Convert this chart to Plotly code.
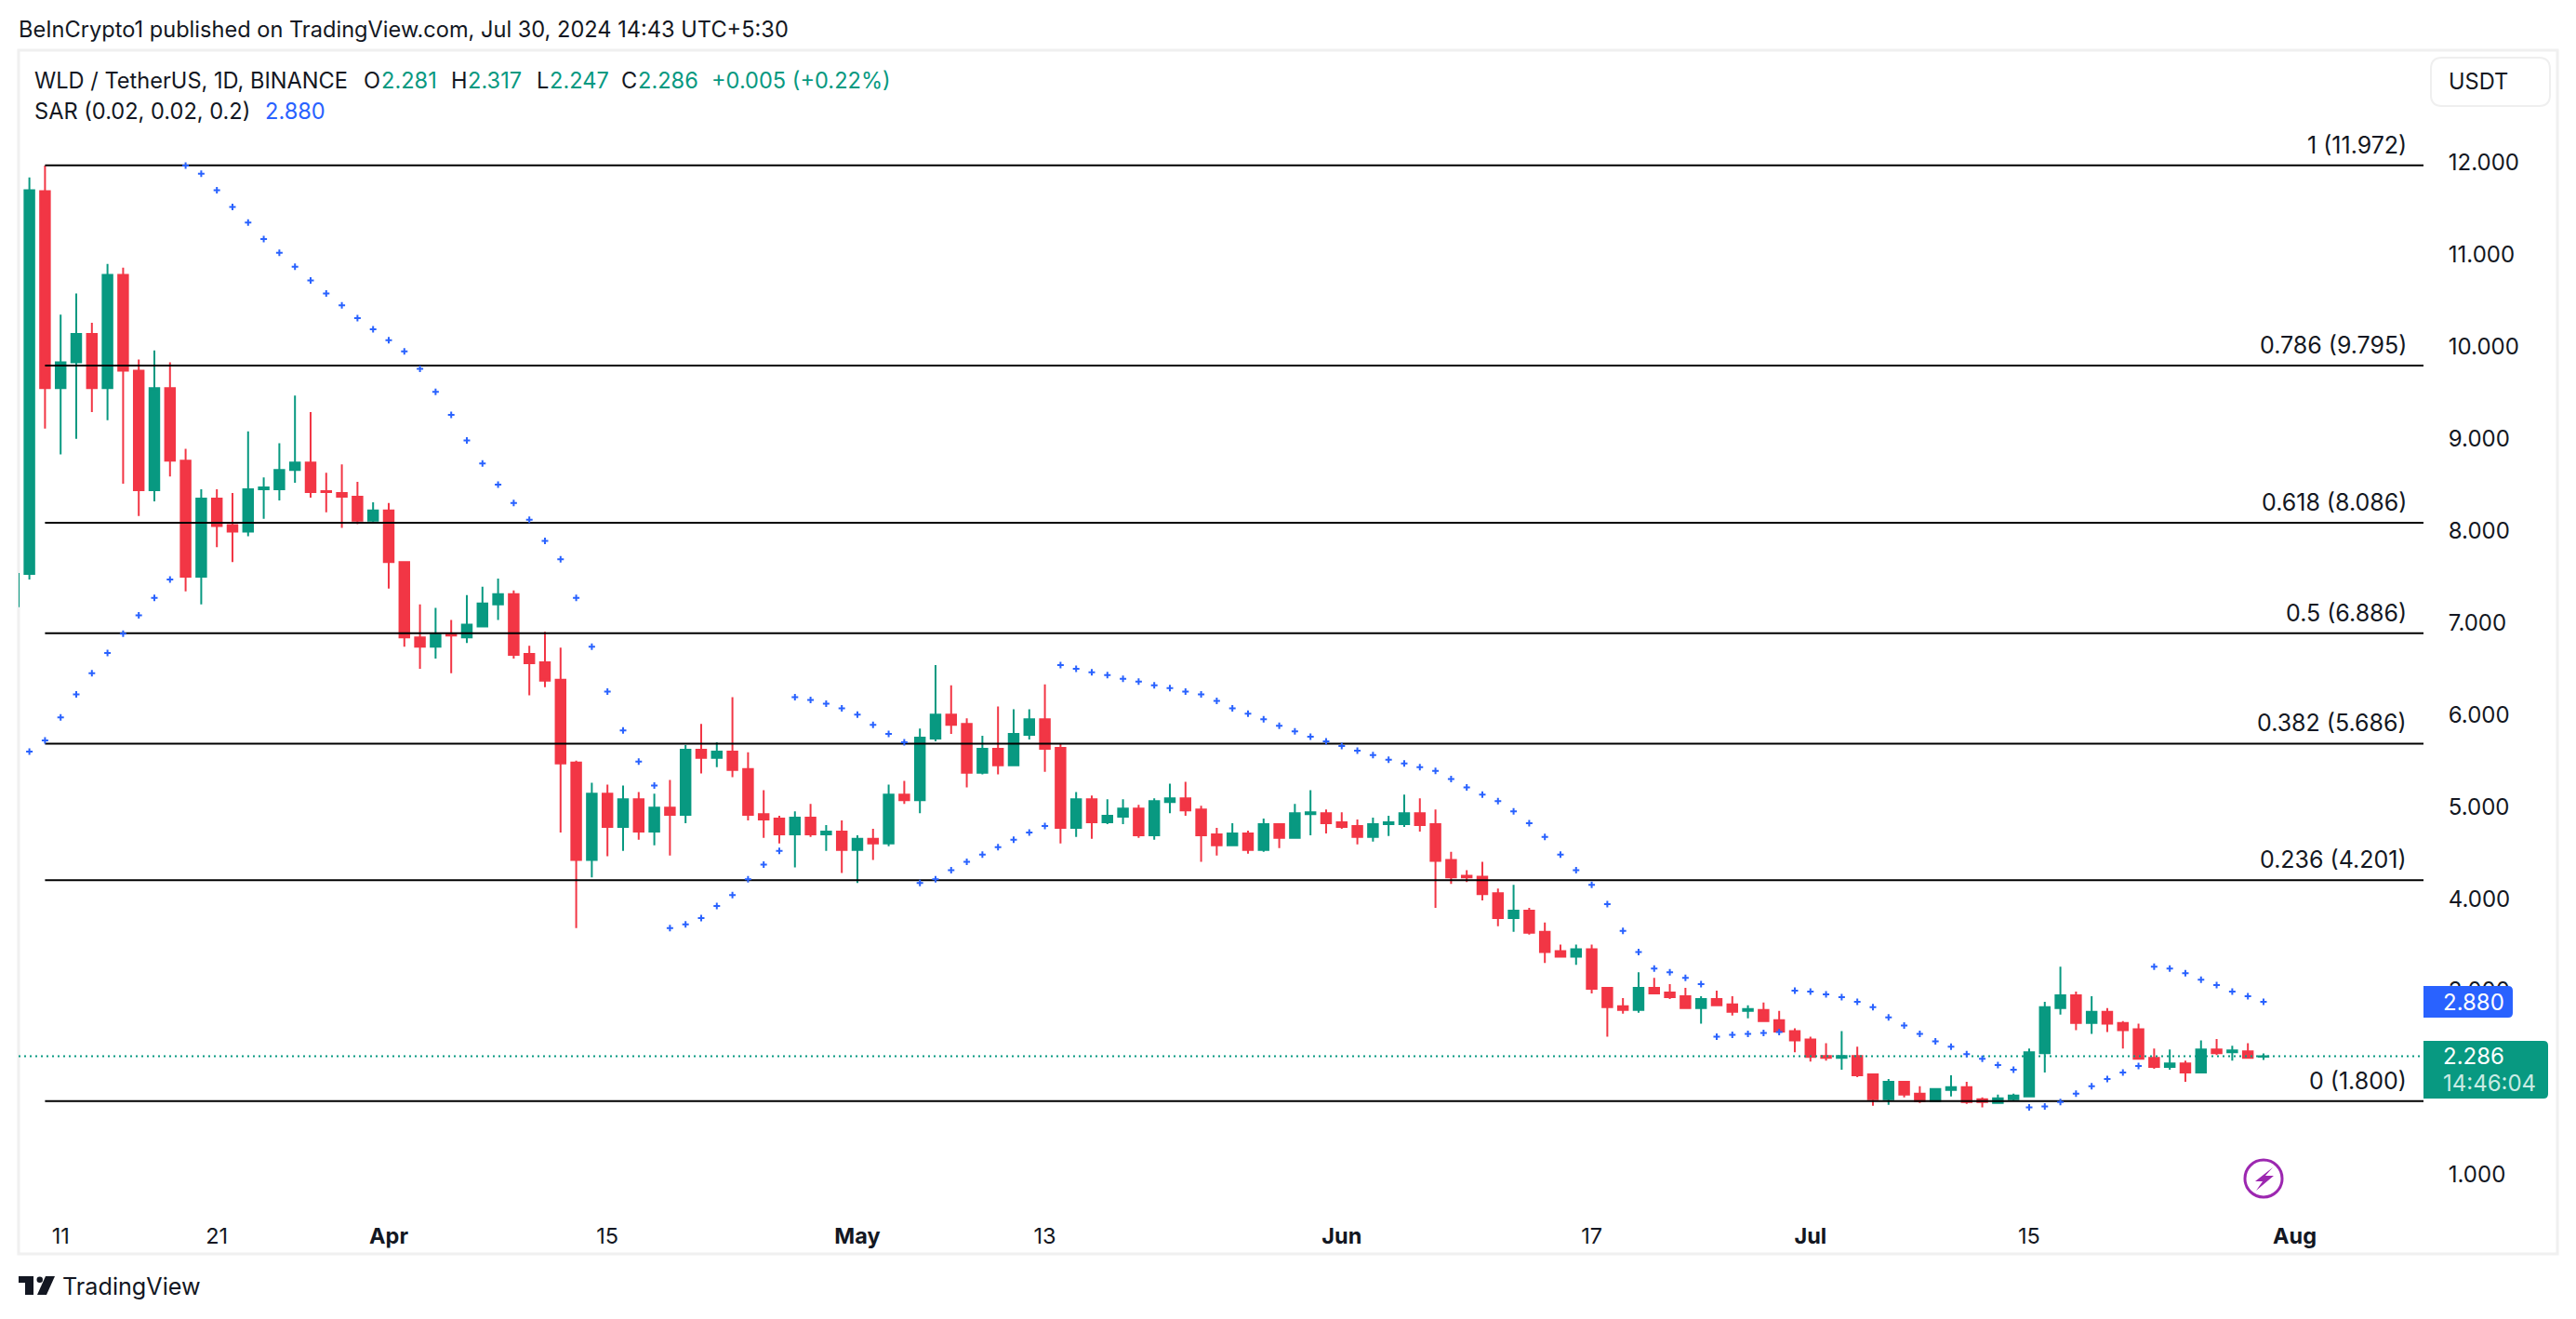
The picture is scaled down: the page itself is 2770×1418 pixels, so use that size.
import pandas as pd
import plotly.graph_objects as go

W, H = 2770, 1418
GREEN = "#089981"
RED = "#F23645"
BLUE = "#2962FF"
INK = "#131722"
FONT = "Inter"

first_day = "2024-03-08"

opens = [7.18,
    7.53, 11.69, 9.55, 9.83, 10.14, 9.55, 10.78, 9.74, 8.44, 9.55,
    8.76, 7.50, 8.35, 8.06, 7.99, 8.45, 8.45, 8.66, 8.74, 8.43,
    8.41, 8.37, 8.11, 8.22, 7.66, 6.84, 6.74, 6.87, 6.84, 6.96,
    7.20, 7.31, 6.66, 6.57, 6.38, 5.48, 4.42, 5.14, 4.78, 5.08,
    4.73, 4.99, 4.91, 5.62, 5.53, 5.60, 5.41, 4.92, 4.87, 4.70,
    4.88, 4.70, 4.73, 4.53, 4.65, 4.60, 5.13, 5.07, 5.74, 6.00,
    5.90, 5.37, 5.63, 5.45, 5.78, 5.95, 5.64, 4.77, 5.08, 4.83,
    4.89, 4.98, 4.69, 5.05, 5.09, 4.97, 4.70, 4.58, 4.71, 4.53,
    4.81, 4.66, 4.92, 4.93, 4.83, 4.79, 4.67, 4.81, 4.81, 4.93,
    4.81, 4.42, 4.25, 4.24, 4.06, 3.79, 3.87, 3.64, 3.43, 3.37,
    3.45, 3.03, 2.83, 2.79, 3.03, 2.98, 2.94, 2.81, 2.91, 2.85,
    2.78, 2.79, 2.68, 2.56, 2.47, 2.29, 2.27, 2.29, 2.09, 1.82,
    2.01, 1.88, 1.80, 1.92, 1.95, 1.82, 1.78, 1.82, 1.85, 2.32,
    2.81, 2.95, 2.65, 2.77, 2.65, 2.58, 2.27, 2.17, 2.21, 2.11,
    2.36, 2.33, 2.34, 2.281]

highs = [7.60,
    11.84, 11.97, 10.35, 10.58, 10.26, 10.90, 10.86, 9.86, 9.96, 9.83,
    8.89, 8.45, 8.45, 8.41, 9.08, 8.58, 8.95, 9.47, 9.29, 8.63,
    8.72, 8.53, 8.31, 8.30, 7.67, 7.20, 7.16, 7.03, 7.30, 7.39,
    7.48, 7.35, 6.75, 6.90, 6.73, 5.50, 5.26, 5.24, 5.23, 5.16,
    5.14, 5.29, 5.67, 5.90, 5.70, 6.19, 5.59, 5.18, 4.90, 4.95,
    5.03, 4.80, 4.85, 4.69, 4.76, 5.24, 5.28, 5.85, 6.54, 6.32,
    5.96, 5.77, 6.09, 6.06, 6.06, 6.33, 5.68, 5.16, 5.12, 5.08,
    5.08, 5.02, 5.09, 5.25, 5.27, 5.01, 4.77, 4.82, 4.74, 4.87,
    4.81, 5.03, 5.18, 4.97, 4.94, 4.86, 4.88, 4.90, 5.13, 5.09,
    4.97, 4.51, 4.31, 4.40, 4.11, 4.15, 3.90, 3.74, 3.50, 3.50,
    3.50, 3.04, 2.92, 3.20, 3.14, 3.07, 3.03, 2.94, 3.00, 2.94,
    2.84, 2.87, 2.78, 2.59, 2.50, 2.43, 2.56, 2.39, 2.09, 2.04,
    2.01, 1.96, 1.93, 2.08, 2.01, 1.84, 1.87, 1.88, 2.37, 2.88,
    3.26, 2.99, 2.94, 2.81, 2.67, 2.64, 2.37, 2.36, 2.24, 2.46,
    2.475, 2.40, 2.43, 2.317]

lows = [7.10,
    7.47, 9.11, 8.83, 9.00, 9.29, 9.20, 8.51, 8.16, 8.32, 8.59,
    7.34, 7.20, 7.82, 7.66, 7.94, 8.13, 8.33, 8.52, 8.36, 8.20,
    8.03, 8.07, 8.09, 7.37, 6.74, 6.50, 6.61, 6.45, 6.78, 6.96,
    7.03, 6.61, 6.21, 6.30, 4.72, 3.68, 4.23, 4.46, 4.52, 4.64,
    4.58, 4.47, 4.82, 5.36, 5.43, 5.32, 4.85, 4.66, 4.60, 4.34,
    4.67, 4.52, 4.28, 4.17, 4.42, 4.57, 5.03, 4.93, 5.71, 5.79,
    5.21, 5.35, 5.35, 5.45, 5.73, 5.38, 4.60, 4.67, 4.65, 4.81,
    4.81, 4.66, 4.64, 4.93, 4.90, 4.40, 4.47, 4.57, 4.49, 4.51,
    4.55, 4.65, 4.69, 4.71, 4.76, 4.59, 4.62, 4.68, 4.78, 4.73,
    3.90, 4.16, 4.18, 3.98, 3.70, 3.64, 3.61, 3.30, 3.36, 3.28,
    2.97, 2.50, 2.75, 2.76, 2.96, 2.91, 2.80, 2.64, 2.83, 2.73,
    2.70, 2.66, 2.545, 2.33, 2.23, 2.24, 2.14, 2.06, 1.75, 1.76,
    1.84, 1.78, 1.80, 1.85, 1.77, 1.73, 1.78, 1.80, 1.85, 2.11,
    2.74, 2.57, 2.53, 2.55, 2.37, 2.26, 2.15, 2.14, 2.01, 2.11,
    2.30, 2.24, 2.26, 2.247]

closes = [7.53,
    11.70, 9.55, 9.83, 10.14, 9.55, 10.78, 9.74, 8.44, 9.55, 8.76,
    7.50, 8.35, 8.05, 7.99, 8.45, 8.47, 8.66, 8.74, 8.42, 8.42,
    8.37, 8.11, 8.22, 7.66, 6.84, 6.74, 6.87, 6.86, 6.98, 7.21,
    7.31, 6.65, 6.56, 6.37, 5.47, 4.42, 5.14, 4.78, 5.08, 4.73,
    4.99, 4.91, 5.62, 5.53, 5.60, 5.40, 4.91, 4.86, 4.70, 4.88,
    4.70, 4.73, 4.53, 4.65, 4.60, 5.13, 5.07, 5.75, 6.00, 5.89,
    5.37, 5.63, 5.45, 5.79, 5.95, 5.63, 4.77, 5.08, 4.83, 4.90,
    4.98, 4.69, 5.06, 5.09, 4.96, 4.69, 4.58, 4.71, 4.53, 4.81,
    4.66, 4.93, 4.94, 4.82, 4.78, 4.67, 4.81, 4.83, 4.93, 4.80,
    4.41, 4.23, 4.23, 4.05, 3.79, 3.87, 3.63, 3.42, 3.37, 3.45,
    3.02, 2.82, 2.79, 3.03, 2.97, 2.93, 2.81, 2.91, 2.84, 2.77,
    2.80, 2.67, 2.555, 2.46, 2.28, 2.27, 2.29, 2.08, 1.82, 2.01,
    1.87, 1.80, 1.93, 1.95, 1.79, 1.79, 1.83, 1.86, 2.33, 2.82,
    2.95, 2.65, 2.77, 2.64, 2.57, 2.26, 2.17, 2.21, 2.11, 2.36,
    2.32, 2.35, 2.27, 2.286]

sar = [None,
    5.60, 5.72, 5.97, 6.22, 6.45, 6.67, 6.88, 7.08, 7.27, 7.47,
    11.97, 11.88, 11.70, 11.52, 11.35, 11.17, 11.02, 10.87, 10.72, 10.58,
    10.45, 10.31, 10.19, 10.07, 9.95, 9.76, 9.51, 9.26, 8.98, 8.73,
    8.50, 8.30, 8.12, 7.89, 7.69, 7.27, 6.74, 6.25, 5.83, 5.49,
    5.23, 3.68, 3.72, 3.79, 3.92, 4.04, 4.21, 4.37, 4.52, 6.19,
    6.16, 6.12, 6.07, 6.00, 5.89, 5.79, 5.70, 4.17, 4.21, 4.31,
    4.40, 4.48, 4.56, 4.64, 4.72, 4.79, 6.54, 6.50, 6.46, 6.43,
    6.39, 6.36, 6.32, 6.29, 6.25, 6.22, 6.15, 6.07, 6.01, 5.95,
    5.88, 5.82, 5.76, 5.71, 5.66, 5.61, 5.56, 5.51, 5.47, 5.43,
    5.39, 5.30, 5.21, 5.13, 5.06, 4.95, 4.82, 4.67, 4.48, 4.31,
    4.15, 3.94, 3.65, 3.42, 3.24, 3.20, 3.14, 3.07, 2.50, 2.52,
    2.53, 2.54, 2.55, 3.00, 2.99, 2.96, 2.93, 2.88, 2.82, 2.71,
    2.62, 2.53, 2.45, 2.39, 2.31, 2.26, 2.19, 2.14, 1.73, 1.74,
    1.79, 1.88, 1.96, 2.04, 2.11, 2.18, 3.26, 3.24, 3.19, 3.12,
    3.06, 2.99, 2.94, 2.88]

fib_ratios = ["1", "0.786", "0.618", "0.5", "0.382", "0.236", "0"]
fib_levels = [11.972, 9.795, 8.086, 6.886, 5.686, 4.201, 1.800]

# 2.000 is left out: the last-price tag covers it completely
price_ticks = [1, 3, 4, 5, 6, 7, 8, 9, 10, 11, 12]
date_ticks = ["2024-03-11", "2024-03-21", "2024-04-01", "2024-04-15", "2024-05-01", "2024-05-13",
              "2024-06-01", "2024-06-17", "2024-07-01", "2024-07-15", "2024-08-01"]
date_labels = ["11", "21", "<b>Apr</b>", "15", "<b>May</b>", "13",
               "<b>Jun</b>", "17", "<b>Jul</b>", "15", "<b>Aug</b>"]

dates = pd.date_range(first_day, periods=len(closes), freq="D")
x_range = ["2024-03-08 07:26", "2024-08-09 05:46"]
fib_start = "2024-03-10"


def px(x):
    return x / W


def py(y):
    return 1 - y / H


def poly(points):
    return "M" + " L".join(f"{px(a):.5f},{py(b):.5f}" for a, b in points) + " Z"


def round_box(x0, y0, x1, y1, r=5, left_round=False):
    # rounded on the right, and on the left too when asked
    rl = r if left_round else 0
    return (f"M{px(x0 + rl):.5f},{py(y0):.5f} L{px(x1 - r):.5f},{py(y0):.5f} "
            f"Q{px(x1):.5f},{py(y0):.5f} {px(x1):.5f},{py(y0 + r):.5f} "
            f"L{px(x1):.5f},{py(y1 - r):.5f} Q{px(x1):.5f},{py(y1):.5f} {px(x1 - r):.5f},{py(y1):.5f} "
            f"L{px(x0 + rl):.5f},{py(y1):.5f} Q{px(x0):.5f},{py(y1):.5f} {px(x0):.5f},{py(y1 - rl):.5f} "
            f"L{px(x0):.5f},{py(y0 + rl):.5f} Q{px(x0):.5f},{py(y0):.5f} {px(x0 + rl):.5f},{py(y0):.5f} Z")


def label(text, x, y, color=INK, size=23.6, xanchor="left"):
    return dict(text=text, x=px(x), y=py(y), xref="paper", yref="paper", showarrow=False,
                xanchor=xanchor, yanchor="middle", font=dict(family=FONT, size=size, color=color),
                borderpad=0, borderwidth=0)


fig = go.Figure()

# fib lines sit under the candles
for level in fib_levels:
    fig.add_trace(go.Scatter(x=[fib_start, x_range[1]], y=[level, level], mode="lines",
                             line=dict(color="#000000", width=2), hoverinfo="skip"))

fig.add_trace(go.Scatter(x=[x_range[0], x_range[1]], y=[closes[-1], closes[-1]], mode="lines",
                         line=dict(color=GREEN, width=2, dash="2px,4px"), hoverinfo="skip"))

fig.add_trace(go.Candlestick(
    x=dates, open=opens, high=highs, low=lows, close=closes,
    increasing=dict(line=dict(color=GREEN, width=2), fillcolor=GREEN),
    decreasing=dict(line=dict(color=RED, width=2), fillcolor=RED),
    whiskerwidth=0, hoverinfo="skip"))

fig.add_trace(go.Scatter(x=dates, y=sar, mode="markers",
                         marker=dict(symbol="cross-thin", size=5, color=BLUE,
                                     line=dict(color=BLUE, width=2)),
                         hoverinfo="skip"))

annotations = [
    label("BeInCrypto1 published on TradingView.com, Jul 30, 2024 14:43 UTC+5:30", 20, 32),
    label("WLD / TetherUS, 1D, BINANCE", 37, 86),
    label("O", 391, 86), label("2.281", 410, 86, GREEN),
    label("H", 485, 86), label("2.317", 503, 86, GREEN),
    label("L", 577, 86), label("2.247", 591, 86, GREEN),
    label("C", 668, 86), label("2.286", 686, 86, GREEN),
    label("+0.005 (+0.22%)", 765, 86, GREEN),
    label("SAR (0.02, 0.02, 0.2)", 37, 120),
    label("2.880", 285, 120, BLUE),
    label("USDT", 2633, 87),
    label("2.880", 2627, 1077, "#ffffff", size=24),
    label("2.286", 2627, 1135, "#ffffff", size=24),
    label("14:46:04", 2627, 1164, "#c9ebe4", size=24),
    label("TradingView", 67, 1383, size=25.2),
]

for ratio, level in zip(fib_ratios, fib_levels):
    annotations.append(dict(text=f"{ratio} ({level:.3f})", x=px(2590), y=level, xref="paper", yref="y",
                            yanchor="bottom", xanchor="right", yshift=5, showarrow=False,
                            font=dict(family=FONT, size=25, color=INK)))

shapes = [
    dict(type="rect", xref="paper", yref="paper", x0=px(20), x1=px(2750), y0=py(1348), y1=py(54),
         line=dict(color="#F0F0F0", width=3), layer="below"),
    dict(type="path", xref="paper", yref="paper", path=round_box(2606, 1060, 2702, 1094),
         fillcolor=BLUE, line=dict(width=0), layer="above"),
    dict(type="path", xref="paper", yref="paper", path=round_box(2606, 1119, 2740, 1181),
         fillcolor=GREEN, line=dict(width=0), layer="above"),
    dict(type="path", xref="paper", yref="paper", path=round_box(2614, 62, 2742, 114, r=12, left_round=True),
         line=dict(color="#EFEFEF", width=2), fillcolor="#ffffff", layer="above"),
    # lightning badge
    dict(type="circle", xref="paper", yref="paper", x0=px(2414), x1=px(2454), y0=py(1287), y1=py(1247),
         line=dict(color="#9C27B0", width=3), layer="above"),
    dict(type="path", xref="paper", yref="paper",
         path=poly([(2444, 1255), (2425, 1270), (2433, 1270), (2426, 1280), (2445, 1264), (2436, 1264)]),
         fillcolor="#9C27B0", line=dict(width=0), layer="above"),
    # TradingView mark
    dict(type="path", xref="paper", yref="paper",
         path=poly([(20, 1372), (36, 1372), (36, 1392), (27, 1392), (27, 1379), (20, 1379)]),
         fillcolor=INK, line=dict(width=0), layer="above"),
    dict(type="circle", xref="paper", yref="paper", x0=px(39.5), x1=px(46), y0=py(1379), y1=py(1372.5),
         fillcolor=INK, line=dict(width=0), layer="above"),
    dict(type="path", xref="paper", yref="paper",
         path=poly([(59, 1372), (49, 1372), (40, 1392), (50, 1392)]),
         fillcolor=INK, line=dict(width=0), layer="above"),
]

fig.update_layout(
    width=W, height=H, margin=dict(l=0, r=0, t=0, b=0),
    paper_bgcolor="#ffffff", plot_bgcolor="#ffffff", showlegend=False,
    boxgap=0.17, boxgroupgap=0.25,
    font=dict(family=FONT, color=INK),
    annotations=annotations, shapes=shapes,
    xaxis=dict(domain=[px(20), px(2606)], range=x_range, type="date", rangeslider=dict(visible=False),
               showgrid=False, zeroline=False, showline=False, ticks="outside", ticklen=18,
               tickcolor="rgba(0,0,0,0)", tickvals=date_ticks, ticktext=date_labels, tickangle=0,
               tickfont=dict(family=FONT, size=23.5, color=INK)),
    yaxis=dict(domain=[py(1290), py(54)], range=[0.725, 13.223], side="right", anchor="x",
               showgrid=False, zeroline=False, showline=False, ticks="outside", ticklen=21,
               tickcolor="rgba(0,0,0,0)", tickvals=price_ticks, tickformat=".3f",
               tickfont=dict(family=FONT, size=24, color=INK)),
)

fig.write_html("out.html", config=dict(displayModeBar=False),
               post_script="document.body.style.margin='0';")
